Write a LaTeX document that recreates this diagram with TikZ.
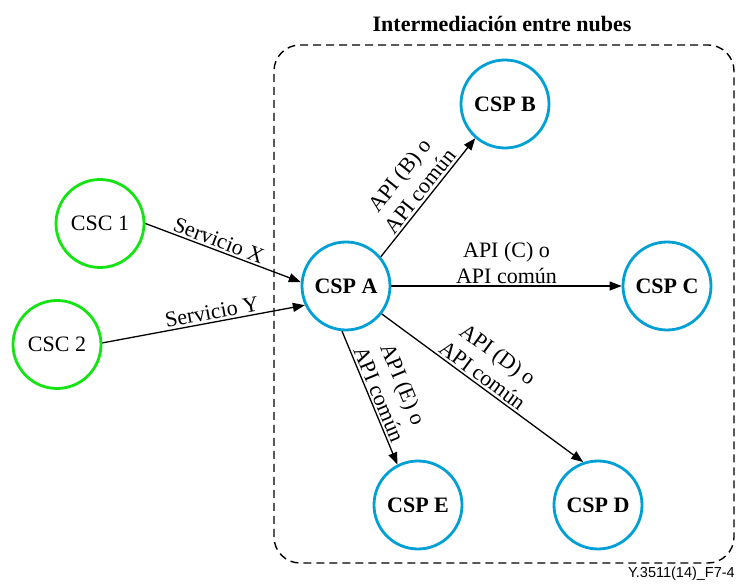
\documentclass[tikz,border=0pt]{standalone}
\usepackage{fontspec}
\setmainfont{Liberation Serif}
\newfontfamily\figsans{Liberation Sans}
\usetikzlibrary{arrows.meta}
\definecolor{cscgreen}{RGB}{20,228,20}
\definecolor{cspblue}{RGB}{0,160,212}
\begin{document}
\begin{tikzpicture}[x=1pt,y=1pt,
  txt/.style={font=\fontsize{22}{26}\selectfont},
  csc/.style={circle,draw=cscgreen,line width=2.8pt,minimum size=88pt,inner sep=0pt,txt},
  csp/.style={circle,draw=cspblue,line width=2.8pt,minimum size=88pt,inner sep=0pt,font=\fontsize{22}{26}\selectfont\bfseries},
  link/.style={line width=1.3pt,-{Triangle[length=12pt,width=9pt]}},
  lbl/.style={sloped,above,align=center,inner sep=2pt,txt}]
\useasboundingbox (0,0) rectangle (736,586);

% cloud broker region
\draw[line width=1.4pt,dash pattern=on 8pt off 5pt,rounded corners=26pt]
  (274,23) rectangle (734,541);
\node[anchor=base,font=\fontsize{22}{26}\selectfont\bfseries] (title) at (502,554) {Intermediación entre nubes};

% customers
\node[csc] (c1) at (100,362.5) {CSC 1};
\node[csc] (c2) at (57,241.5) {CSC 2};

% providers
\node[csp] (a) at (346,300) {CSP A};
\node[csp] (b) at (505,482) {CSP B};
\node[csp] (c) at (667,300) {CSP C};
\node[csp] (e) at (418,81) {CSP E};
\node[csp] (d) at (598,81) {CSP D};

% services offered to the customers
\draw[link] (c1.0) -- node[lbl,pos=0.45] {Servicio X} (a.175);
\draw[link] (c2.2) -- node[lbl,pos=0.55,inner sep=2.5pt] {Servicio Y} (a.205);

% APIs towards the other providers
\draw[link] (a.40) -- node[lbl,pos=0.5] {API (B) o\\API común} (b.229);
\draw[link] (a.east) -- node[lbl,pos=0.5] {API (C) o\\API común} (c.west);
\draw[link] (a.-38) -- node[lbl,pos=0.47] {API (D) o\\API común} (d.109);
\draw[link] (a.265) -- node[lbl,pos=0.5] {API (E) o\\API común} (e.117);

% figure number
\node[anchor=base east,inner sep=0pt,font=\figsans\fontsize{14.5}{16}\selectfont] (fig) at (735,8) {Y.3511(14)\_F7-4};
\end{tikzpicture}
\end{document}
